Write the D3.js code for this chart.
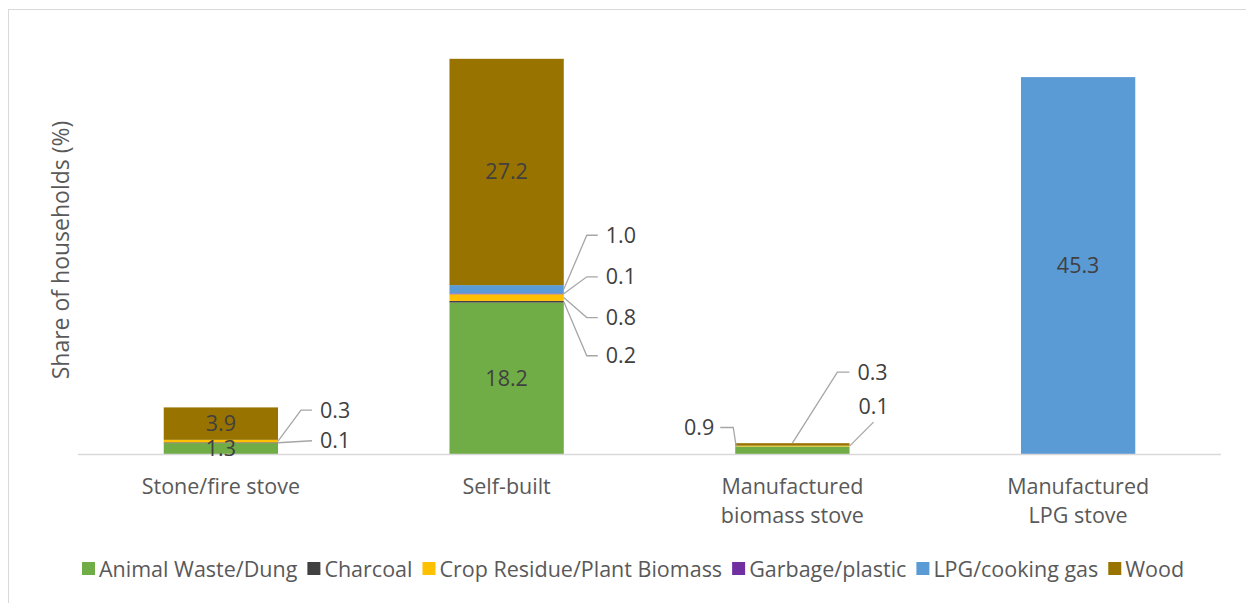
<!DOCTYPE html>
<html>
<head>
<meta charset="utf-8">
<script src="https://cdn.jsdelivr.net/npm/d3@7"></script>
<style>
  body { margin: 0; background: #fff; }
  text { font-family: "Open Sans", sans-serif; }
</style>
</head>
<body>
<div class="chart"></div>
<script>
var svgWidth = 1246;
var svgHeight = 603;

// data
var categories = ["Stone/fire stove", "Self-built", "Manufactured biomass stove", "Manufactured LPG stove"];
var categoryLines = [["Stone/fire stove"], ["Self-built"], ["Manufactured", "biomass stove"], ["Manufactured", "LPG stove"]];
var seriesNames = ["Animal Waste/Dung", "Charcoal", "Crop Residue/Plant Biomass", "Garbage/plastic", "LPG/cooking gas", "Wood"];
var animalWaste = [1.3, 18.2, 0.9, 0];
var charcoal = [0.1, 0.2, 0, 0];
var cropResidue = [0.3, 0.8, 0.1, 0];
var garbage = [0, 0.1, 0, 0];
var lpgGas = [0, 1.0, 0, 45.3];
var wood = [3.9, 27.2, 0.3, 0];
var colors = ["#70AD47", "#404040", "#FFC000", "#7030A0", "#5B9BD5", "#997300"];

var seriesValues = [animalWaste, charcoal, cropResidue, garbage, lpgGas, wood];

var table = categories.map(function (c, i) {
  var row = { cat: c };
  seriesNames.forEach(function (s, j) { row[s] = seriesValues[j][i]; });
  return row;
});

var fontSize = "21.5px";

var svg = d3.select(".chart")
  .append("svg")
  .attr("width", svgWidth)
  .attr("height", svgHeight);

// chart border
svg.append("rect")
  .attr("x", 8.5).attr("y", 9.5)
  .attr("width", svgWidth).attr("height", svgHeight)
  .attr("fill", "none")
  .attr("stroke", "#D9D9D9");

var xScale = d3.scaleBand()
  .domain(categories)
  .range([78, 1221])
  .paddingInner(0.6)
  .paddingOuter(0.3);

var yScale = d3.scaleLinear()
  .domain([0, 50])
  .range([454, 38]);

var stack = d3.stack().keys(seriesNames);
var stacked = stack(table);

// bars
var layers = svg.selectAll(".layer")
  .data(stacked)
  .enter()
  .append("g")
  .attr("class", "layer")
  .attr("fill", (d, i) => colors[i]);

layers.selectAll("rect")
  .data(d => d)
  .enter()
  .append("rect")
  .attr("x", d => xScale(d.data.cat))
  .attr("y", d => yScale(d[1]))
  .attr("width", xScale.bandwidth())
  .attr("height", d => yScale(d[0]) - yScale(d[1]));

// baseline
svg.append("line")
  .attr("x1", 78).attr("x2", 1221)
  .attr("y1", yScale(0) + 0.5).attr("y2", yScale(0) + 0.5)
  .attr("stroke", "#D9D9D9")
  .attr("stroke-width", 1.5);

// category labels
categories.forEach(function (c, i) {
  var cx = xScale(c) + xScale.bandwidth() / 2;
  var t = svg.append("text")
    .attr("x", cx)
    .attr("y", 494)
    .attr("text-anchor", "middle")
    .attr("fill", "#595959")
    .style("font-size", fontSize);
  categoryLines[i].forEach(function (line, k) {
    t.append("tspan")
      .attr("x", cx)
      .attr("dy", k === 0 ? 0 : 29)
      .text(line);
  });
});

// y title
svg.append("text")
  .attr("transform", "rotate(-90)")
  .attr("x", -250)
  .attr("y", 69)
  .attr("text-anchor", "middle")
  .attr("fill", "#595959")
  .style("font-size", "23px")
  .text("Share of households (%)");

// inside labels for the large segments
stacked.forEach(function (layer) {
  layer.forEach(function (d) {
    var v = d[1] - d[0];
    if (v < 1.2) return;
    svg.append("text")
      .attr("x", xScale(d.data.cat) + xScale.bandwidth() / 2)
      .attr("y", (yScale(d[0]) + yScale(d[1])) / 2)
      .attr("dy", "0.35em")
      .attr("text-anchor", "middle")
      .attr("fill", "#404040")
      .style("font-size", fontSize)
      .text(v.toFixed(1));
  });
});

// outside labels with leader lines: where they sit next to the bar
var callouts = [
  { cat: 0, s: 2, side: "right", pts: [[23, -31], [34, -31]], tx: 42 },
  { cat: 0, s: 1, side: "right", pts: [[34, -2]], tx: 42 },
  { cat: 1, s: 4, side: "right", pts: [[23, -54], [34, -54]], tx: 42 },
  { cat: 1, s: 3, side: "right", pts: [[23, -17], [34, -17]], tx: 42 },
  { cat: 1, s: 2, side: "right", pts: [[23, 20], [34, 20]], tx: 42 },
  { cat: 1, s: 1, side: "right", pts: [[23, 54], [34, 54]], tx: 42 },
  { cat: 2, s: 0, side: "lefttop", pts: [[-3, -19], [-16, -19]], tx: -22 },
  { cat: 2, s: 5, side: "midtop", pts: [[45, -71], [57, -71]], tx: 65 },
  { cat: 2, s: 2, side: "right", pts: [[24, -24]], tx: 9, ty: -40 }
];

callouts.forEach(function (c) {
  var d = stacked[c.s][c.cat];
  var x0 = xScale(categories[c.cat]);
  var bw = xScale.bandwidth();
  var sx, sy;
  if (c.side === "right") { sx = x0 + bw; sy = (yScale(d[0]) + yScale(d[1])) / 2; }
  else if (c.side === "lefttop") { sx = x0 + 1; sy = yScale(d[1]); }
  else { sx = x0 + bw / 2; sy = yScale(d[1]); }
  var pts = [[sx, sy]].concat(c.pts.map(p => [sx + p[0], sy + p[1]]));
  svg.append("path")
    .attr("d", d3.line()(pts))
    .attr("fill", "none")
    .attr("stroke", "#A6A6A6")
    .attr("stroke-width", 1.3);
  var last = pts[pts.length - 1];
  svg.append("text")
    .attr("x", sx + c.tx)
    .attr("y", c.ty !== undefined ? sy + c.ty : last[1])
    .attr("dy", "0.35em")
    .attr("text-anchor", c.tx < 0 ? "end" : "start")
    .attr("fill", "#404040")
    .style("font-size", fontSize)
    .text((d[1] - d[0]).toFixed(1));
});

// legend
var legend = svg.append("g").attr("transform", "translate(0, 569)");
var lx = 82;
seriesNames.forEach(function (name, i) {
  legend.append("rect")
    .attr("x", lx).attr("y", -7)
    .attr("width", 13).attr("height", 13)
    .attr("fill", colors[i]);
  var t = legend.append("text")
    .attr("x", lx + 17)
    .attr("y", 0)
    .attr("dy", "0.35em")
    .attr("fill", "#595959")
    .style("font-size", fontSize)
    .text(name);
  lx += 17 + t.node().getComputedTextLength() + 10;
});
</script>
</body>
</html>
